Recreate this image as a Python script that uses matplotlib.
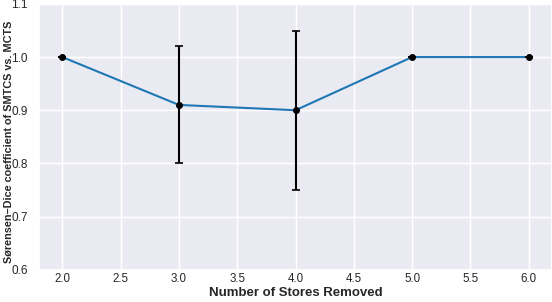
import matplotlib
matplotlib.use("Agg")
import matplotlib.pyplot as plt
import seaborn as sns

stores_removed = [2.0, 3.0, 4.0, 5.0, 6.0]
dice_mean = [1.0, 0.91, 0.90, 1.0, 1.0]
dice_err = [0.0, 0.11, 0.15, 0.0, 0.0]

sns.set_theme(style="darkgrid")
plt.rcParams['font.family'] = ['Liberation Sans', 'DejaVu Sans']

fig, ax = plt.subplots(figsize=(5.52, 3.02), dpi=100)
ax.plot(stores_removed, dice_mean, color="#1f77b4", lw=1.5, zorder=2)
ax.errorbar(stores_removed, dice_mean, yerr=dice_err, fmt='o', color='black',
            ecolor='black', markersize=4, capsize=3, elinewidth=1.5, capthick=1.2, zorder=3)
ax.set_ylim(0.6, 1.1)
ax.set_xlabel("Number of Stores Removed", fontweight='bold', fontsize=9.5)
ylab = ax.set_ylabel("Sørensen–Dice coefficient of SMTCS vs. MCTS", fontweight='bold', fontsize=10.5)
ax.tick_params(axis='x', labelsize=8.3, length=0, pad=2.5)
ax.tick_params(axis='y', labelsize=8.5, pad=2)
fig.subplots_adjust(left=0.0707, right=1.0, top=0.987, bottom=0.107)

# fit y label length to the reference (~245 px)
fig.canvas.draw()
h = ylab.get_window_extent().height
ylab.set_fontsize(10.5 * 243.0 / h)

ax.yaxis.set_label_coords(-0.049, 0.48)
ax.xaxis.set_label_coords(0.5, -0.064)

fig.savefig("out.png", dpi=100)
